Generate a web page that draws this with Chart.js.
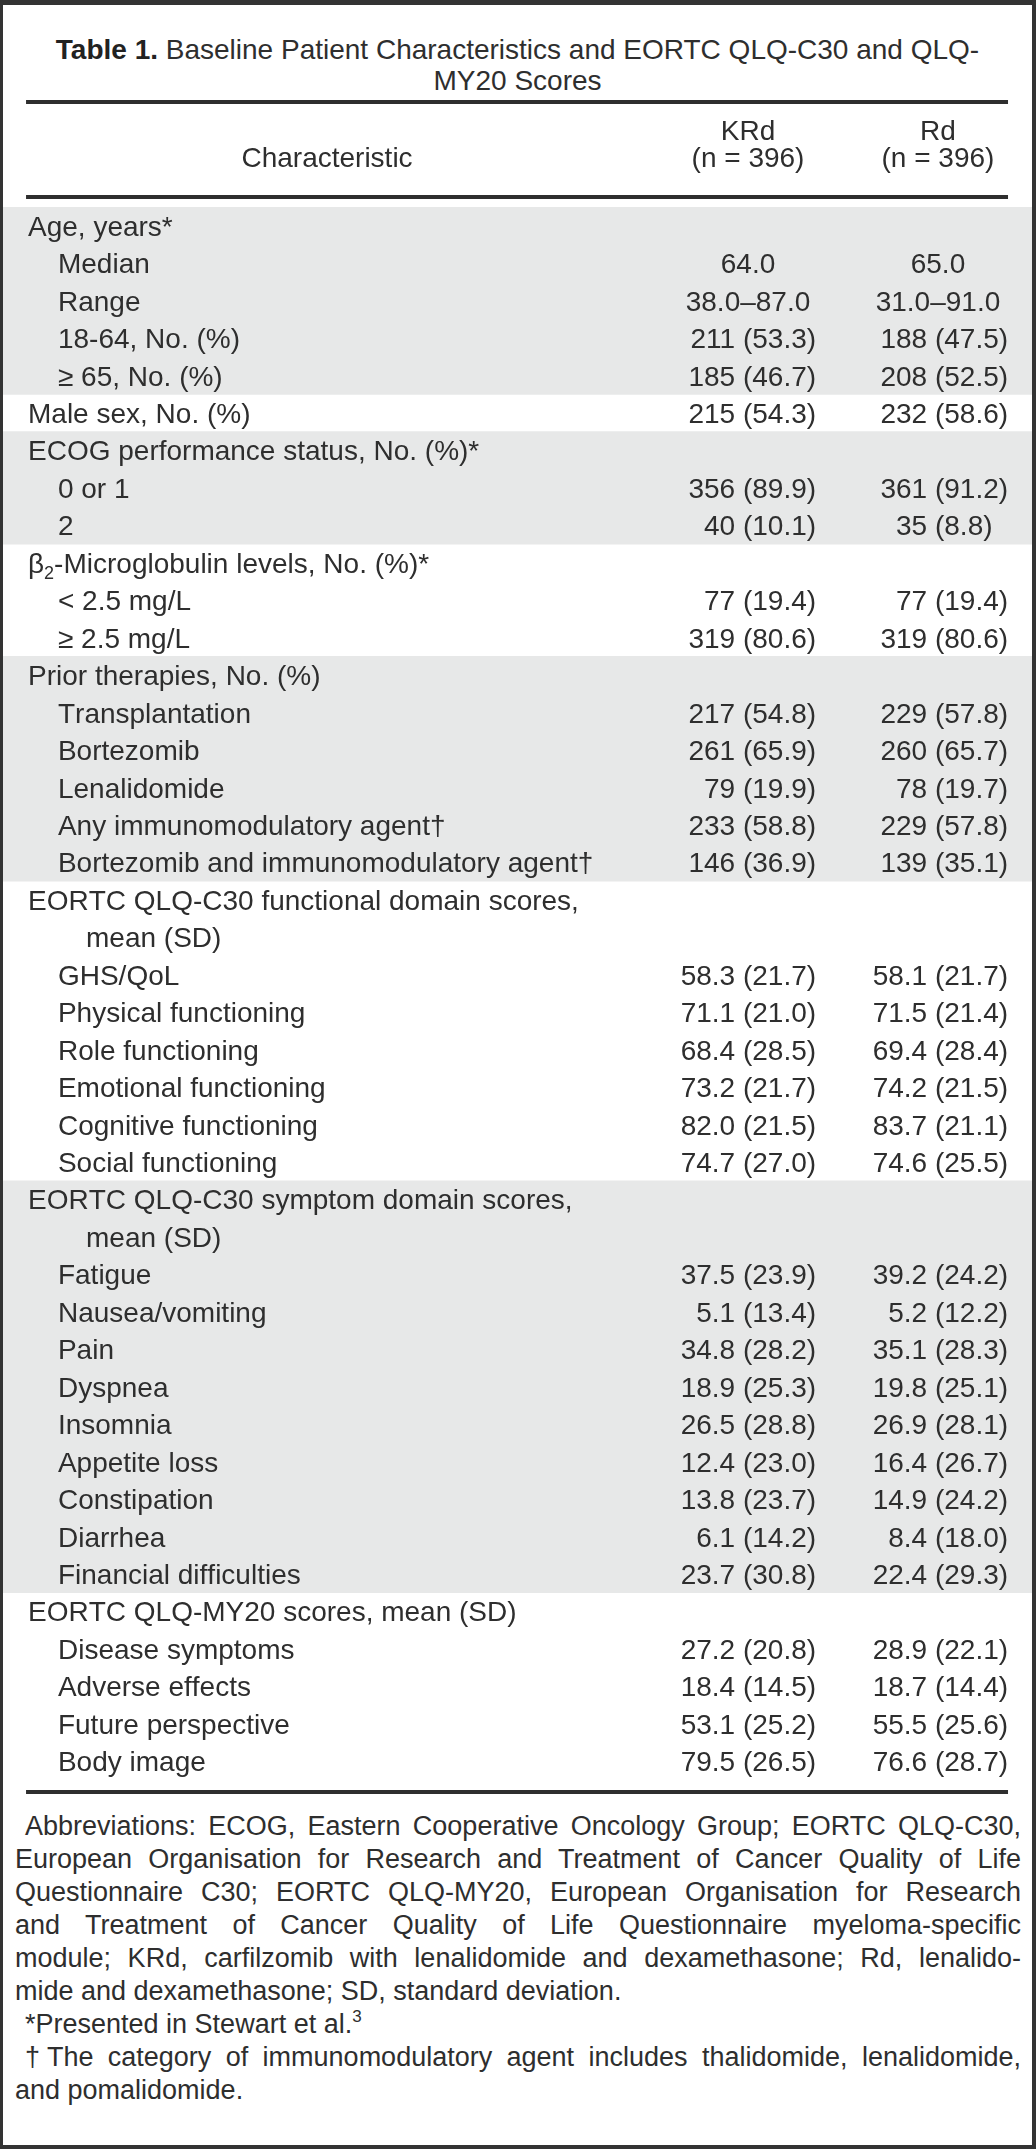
<!DOCTYPE html>
<html>
<head>
<meta charset="utf-8">
<title>Table 1</title>
<script src="https://cdn.jsdelivr.net/npm/chart.js@4.4.1/dist/chart.umd.min.js"></script>
<style>
  html, body { margin: 0; padding: 0; background: #fff; }
  #page { position: relative; width: 1036px; height: 2149px; background: #fff; overflow: hidden;
          font-family: 'Liberation Sans', Arial, Helvetica, sans-serif; color: #2e2e2e; }
  #frame { position: absolute; left: 0; top: 0; width: 1036px; height: 2149px; box-sizing: border-box;
           border-style: solid; border-color: #333; border-width: 5px 4px 4px 3px; pointer-events: none; }
  #title { position: absolute; top: 34px; left: 3px; right: 4px; text-align: center;
           font-size: 28px; line-height: 31px; }
  #title b { font-weight: bold; color: #222; }
  #tableChart { position: absolute; left: 0; top: 90px; }
  #notes { position: absolute; top: 1810px; left: 15px; width: 1006px; font-size: 27px; line-height: 33px; }
  #notes div { white-space: nowrap; }
  #notes .j { text-align: justify; text-align-last: justify; }
  #notes .ind { padding-left: 10px; }
  #notes sup { font-size: 17px; line-height: 0; vertical-align: 11px; }
</style>
</head>
<body>
<div id="page">
  <div id="title"><b>Table 1.</b> Baseline Patient Characteristics and EORTC QLQ-C30 and QLQ-<br>MY20 Scores</div>

  <canvas id="tableChart" width="1036" height="1710"></canvas>

  <div id="notes">
    <div class="j ind">Abbreviations: ECOG, Eastern Cooperative Oncology Group; EORTC QLQ-C30,</div>
    <div class="j">European Organisation for Research and Treatment of Cancer Quality of Life</div>
    <div class="j">Questionnaire C30; EORTC QLQ-MY20, European Organisation for Research</div>
    <div class="j">and Treatment of Cancer Quality of Life Questionnaire myeloma-specific</div>
    <div class="j">module; KRd, carfilzomib with lenalidomide and dexamethasone; Rd, lenalido-</div>
    <div>mide and dexamethasone; SD, standard deviation.</div>
    <div class="ind">*Presented in Stewart et al.<sup>3</sup></div>
    <div class="j ind">†The category of immunomodulatory agent includes thalidomide, lenalidomide,</div>
    <div>and pomalidomide.</div>
  </div>

  <div id="frame"></div>
</div>

<script>
/* ---------- table data ---------- */

const stubHead = 'Characteristic';
const columnHeads = ['KRd', 'Rd'];
const columnCounts = ['(n = 396)', '(n = 396)'];

const rowLabels = [
  'Age, years*', 'Median', 'Range', '18-64, No. (%)', '≥ 65, No. (%)',
  'Male sex, No. (%)',
  'ECOG performance status, No. (%)*', '0 or 1', '2',
  'β₂-Microglobulin levels, No. (%)*', '< 2.5 mg/L', '≥ 2.5 mg/L',
  'Prior therapies, No. (%)', 'Transplantation', 'Bortezomib', 'Lenalidomide',
  'Any immunomodulatory agent†', 'Bortezomib and immunomodulatory agent†',
  'EORTC QLQ-C30 functional domain scores,', 'mean (SD)', 'GHS/QoL', 'Physical functioning',
  'Role functioning', 'Emotional functioning', 'Cognitive functioning', 'Social functioning',
  'EORTC QLQ-C30 symptom domain scores,', 'mean (SD)', 'Fatigue', 'Nausea/vomiting', 'Pain',
  'Dyspnea', 'Insomnia', 'Appetite loss', 'Constipation', 'Diarrhea', 'Financial difficulties',
  'EORTC QLQ-MY20 scores, mean (SD)', 'Disease symptoms', 'Adverse effects',
  'Future perspective', 'Body image'
];

// 0 = group heading, 1 = item, 2 = wrapped heading line
const rowLevels = [
  0, 1, 1, 1, 1,
  0,
  0, 1, 1,
  0, 1, 1,
  0, 1, 1, 1, 1, 1,
  0, 2, 1, 1, 1, 1, 1, 1,
  0, 2, 1, 1, 1, 1, 1, 1, 1, 1, 1,
  0, 1, 1, 1, 1
];

// which block of the table each row belongs to
const rowSections = [
  0, 0, 0, 0, 0,
  1,
  2, 2, 2,
  3, 3, 3,
  4, 4, 4, 4, 4, 4,
  5, 5, 5, 5, 5, 5, 5, 5,
  6, 6, 6, 6, 6, 6, 6, 6, 6, 6, 6,
  7, 7, 7, 7, 7
];

const krdValues = [
  '', '64.0', '38.0–87.0', '211 (53.3)', '185 (46.7)',
  '215 (54.3)',
  '', '356 (89.9)', '40 (10.1)',
  '', '77 (19.4)', '319 (80.6)',
  '', '217 (54.8)', '261 (65.9)', '79 (19.9)', '233 (58.8)', '146 (36.9)',
  '', '', '58.3 (21.7)', '71.1 (21.0)', '68.4 (28.5)', '73.2 (21.7)', '82.0 (21.5)', '74.7 (27.0)',
  '', '', '37.5 (23.9)', '5.1 (13.4)', '34.8 (28.2)', '18.9 (25.3)', '26.5 (28.8)',
  '12.4 (23.0)', '13.8 (23.7)', '6.1 (14.2)', '23.7 (30.8)',
  '', '27.2 (20.8)', '18.4 (14.5)', '53.1 (25.2)', '79.5 (26.5)'
];

const rdValues = [
  '', '65.0', '31.0–91.0', '188 (47.5)', '208 (52.5)',
  '232 (58.6)',
  '', '361 (91.2)', '35 (8.8)',
  '', '77 (19.4)', '319 (80.6)',
  '', '229 (57.8)', '260 (65.7)', '78 (19.7)', '229 (57.8)', '139 (35.1)',
  '', '', '58.1 (21.7)', '71.5 (21.4)', '69.4 (28.4)', '74.2 (21.5)', '83.7 (21.1)', '74.6 (25.5)',
  '', '', '39.2 (24.2)', '5.2 (12.2)', '35.1 (28.3)', '19.8 (25.1)', '26.9 (28.1)',
  '16.4 (26.7)', '14.9 (24.2)', '8.4 (18.0)', '22.4 (29.3)',
  '', '28.9 (22.1)', '18.7 (14.4)', '55.5 (25.6)', '76.6 (28.7)'
];

/* ---------- layout (x in % of the table width) ---------- */

const INK = '#2e2e2e';
const SHADE = '#e7e8e8';
const FONT = '28px "Liberation Sans", Arial, Helvetica, sans-serif';
const SUB_FONT = '18px "Liberation Sans", Arial, Helvetica, sans-serif';
const LEVEL_X = [2.43, 5.34, 8.07];
const COLS = [
  { anchor: 71.91, center: 72.40 },  // KRd
  { anchor: 90.57, center: 90.86 }   // Rd
];
const STUB_CENTER = 31.49;
const RULE_FROM = 2.24, RULE_TO = 97.67, RULE_W = 4;

const SUBS = '₀₁₂₃₄₅₆₇₈₉';

// label text, with subscript digits drawn small and lowered
function drawLabel(ctx, text, x, base) {
  ctx.textAlign = 'left';
  let cur = x;
  for (const ch of text) {
    const s = SUBS.indexOf(ch);
    if (s >= 0) {
      ctx.font = SUB_FONT;
      ctx.fillText(String(s), cur, base + 6);
      cur += ctx.measureText(String(s)).width;
      ctx.font = FONT;
    } else {
      ctx.fillText(ch, cur, base);
      cur += ctx.measureText(ch).width;
    }
  }
}

// "n (x.x)" aligned on the parenthesis, plain numbers centred
function drawValue(ctx, str, anchor, center, base) {
  if (!str) return;
  const k = str.indexOf(' (');
  if (k < 0) {
    ctx.textAlign = 'center';
    ctx.fillText(str, center, base);
    return;
  }
  ctx.textAlign = 'right';
  ctx.fillText(str.slice(0, k + 1), anchor, base);
  ctx.textAlign = 'left';
  ctx.fillText(str.slice(k + 1), anchor, base);
}

const tableText = {
  id: 'tableText',
  afterDatasetsDraw(chart) {
    const { ctx, chartArea, scales: { x, y } } = chart;
    ctx.save();
    ctx.fillStyle = INK;

    // rules above/below the header and under the last row
    const rl = x.getPixelForValue(RULE_FROM);
    const rr = x.getPixelForValue(RULE_TO);
    [chartArea.top - 107, chartArea.top - 12, chartArea.bottom + 10]
      .forEach(t => ctx.fillRect(rl, t, rr - rl, RULE_W));

    // header
    ctx.font = FONT;
    ctx.textBaseline = 'alphabetic';
    ctx.textAlign = 'center';
    columnHeads.forEach((h, c) => {
      const cx = x.getPixelForValue(COLS[c].center);
      ctx.fillText(h, cx, chartArea.top - 67);
      ctx.fillText(columnCounts[c], cx, chartArea.top - 40);
    });
    ctx.fillText(stubHead, x.getPixelForValue(STUB_CENTER), chartArea.top - 40);

    // body rows
    rowLabels.forEach((label, i) => {
      const base = y.getPixelForValue(i) + 10;
      drawLabel(ctx, label, x.getPixelForValue(LEVEL_X[rowLevels[i]]), base);
      drawValue(ctx, krdValues[i], x.getPixelForValue(COLS[0].anchor), x.getPixelForValue(COLS[0].center), base);
      drawValue(ctx, rdValues[i], x.getPixelForValue(COLS[1].anchor), x.getPixelForValue(COLS[1].center), base);
    });
    ctx.restore();
  }
};

// alternate blocks get the grey band
const shadeBands = rowSections.map(s => (s % 2 === 0 ? [0, 100] : null));

new Chart(document.getElementById('tableChart'), {
  type: 'bar',
  data: {
    labels: rowLabels,
    datasets: [{
      data: shadeBands,
      backgroundColor: SHADE,
      borderWidth: 0,
      borderSkipped: false,
      categoryPercentage: 1,
      barPercentage: 1.02
    }]
  },
  options: {
    indexAxis: 'y',
    responsive: false,
    animation: false,
    devicePixelRatio: 1,
    layout: { padding: { top: 117, bottom: 20, left: 3, right: 4 } },
    plugins: { legend: { display: false }, tooltip: { enabled: false } },
    events: [],
    scales: {
      x: { type: 'linear', min: 0, max: 100, display: false },
      y: { type: 'category', display: false }
    }
  },
  plugins: [tableText]
});
</script>
</body>
</html>
